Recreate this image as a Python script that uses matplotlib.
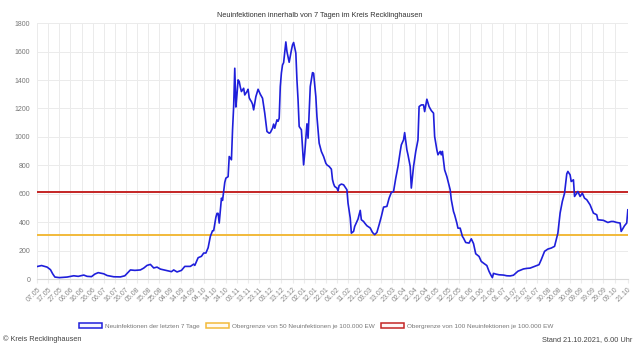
import pandas as pd
import matplotlib.pyplot as plt
from matplotlib.patches import Patch

plt.rcParams['font.family'] = ['Liberation Sans', 'DejaVu Sans']

start = pd.Timestamp('2020-05-07')
days = [0, 4, 9, 12, 14, 16, 20, 27, 33, 37, 42, 45, 49, 52, 55, 60, 63, 69, 75, 79,
        84, 88, 93, 96, 99, 102, 105, 108, 111, 117, 121, 123, 126, 130, 133, 138, 141, 142,
        145, 148, 150, 152, 154, 156, 158, 159, 161, 162, 163, 164, 166, 167, 169, 170, 172,
        173, 175, 176, 177, 178, 179, 180, 181, 182, 183, 184, 186, 187, 189, 190, 191, 192,
        193, 194, 195, 197, 199, 201, 203, 205, 207, 209, 210, 212, 213, 214, 216, 217, 218,
        219, 220, 221, 222, 224, 225, 227, 229, 230, 231, 233, 234, 235, 236, 238, 240, 241,
        243, 244, 246, 248, 249, 251, 252, 254, 256, 258, 260, 261, 263, 265, 266, 267, 268,
        270, 271, 272, 274, 276, 277, 279, 280, 282, 283, 285, 286, 288, 289, 291, 292, 294,
        295, 297, 300, 302, 304, 306, 308, 310, 312, 315, 317, 319, 321, 323, 325, 327, 328,
        330, 331, 333, 334, 336, 337, 339, 341, 343, 344, 346, 348, 349, 351, 353, 355, 357,
        358, 360, 361, 363, 364, 365, 367, 369, 372, 373, 375, 376, 378, 379, 381, 383, 384,
        386, 389, 391, 393, 395, 398, 400, 402, 405, 407, 409, 410, 411, 413, 416, 420, 423,
        426, 429, 433, 438, 441, 444, 448, 452, 454, 457, 460, 463, 466, 469, 471, 473, 475,
        477, 478, 480, 481, 483, 484, 486, 487, 489, 491, 493, 495, 498, 501, 504, 505, 510,
        514, 517, 519, 522, 525, 526, 529, 531, 532]
cases = [88, 95, 84, 66, 37, 14, 10, 14, 23, 19, 28, 19, 17, 35, 45, 37, 25, 16, 15, 23,
         64, 61, 64, 77, 96, 103, 78, 84, 70, 59, 52, 64, 50, 61, 89, 89, 105, 96,
         150, 160, 183, 183, 220, 300, 340, 340, 435, 462, 462, 394, 569, 553, 680, 710, 720,
         862, 839, 1050, 1213, 1483, 1210, 1300, 1401, 1390, 1350, 1319, 1342, 1295, 1319, 1335, 1275, 1260,
         1248, 1230, 1190, 1283, 1335, 1300, 1272, 1167, 1038, 1026, 1030, 1061, 1090, 1061, 1120, 1110, 1131,
         1354, 1450, 1506, 1522, 1668, 1600, 1525, 1610, 1647, 1664, 1590, 1400, 1260, 1073, 1050, 803, 885,
         1092, 991, 1354, 1452, 1448, 1284, 1143, 956, 897, 862, 815, 803, 792, 773, 700, 670, 651,
         640, 620, 658, 668, 663, 651, 628, 534, 429, 323, 335, 370, 405, 422, 483, 417, 405,
         394, 375, 359, 328, 312, 328, 382, 440, 506, 511, 569, 609, 616, 710, 792, 897, 944,
         979, 1030, 909, 874, 792, 640, 792, 898, 979, 1213, 1225, 1225, 1178, 1265, 1213, 1185, 1167,
         1003, 909, 874, 898, 874, 898, 768, 721, 628, 558, 475, 452, 394, 358, 358, 300, 288,
         257, 253, 283, 250, 178, 159, 124, 112, 95, 54, 23, 10, 40, 35, 30, 28, 23,
         22, 27, 55, 71, 75, 77, 89, 101, 136, 195, 211, 218, 230, 323, 464, 546, 604,
         740, 757, 733, 686, 698, 581, 604, 616, 581, 604, 569, 558, 522, 464, 452, 417, 413,
         398, 405, 405, 398, 394, 335, 375, 394, 487]

limit_50 = 307.5
limit_100 = 615

tick_days = list(range(0, 521, 10)) + [532]

dates = [start + pd.Timedelta(days=d) for d in days]
tick_dates = [start + pd.Timedelta(days=d) for d in tick_days]
tick_labels = [t.strftime('%d.%m') for t in tick_dates]

fig = plt.figure(figsize=(6.4, 3.51), dpi=100)
ax = fig.add_axes([0.058, 0.205, 0.923, 0.729])

blue = '#1f1fdb'
orange = '#f2ba3a'
red = '#c42525'

ax.axhline(limit_50, color=orange, lw=1.4, zorder=2)
ax.axhline(limit_100, color=red, lw=1.4, zorder=2)
ax.plot(dates, cases, color=blue, lw=1.2, zorder=3)

ax.set_xlim(tick_dates[0], tick_dates[-1])
ax.set_ylim(0, 1800)
ax.set_yticks(range(0, 1801, 200))
ax.set_xticks(tick_dates)
ax.set_xticklabels(tick_labels, rotation=45, ha='right', rotation_mode='anchor')

ax.grid(True, color='#ebebeb', lw=0.7)
ax.set_axisbelow(True)
for s in ['top', 'right', 'left']:
    ax.spines[s].set_visible(False)
ax.spines['bottom'].set_color('#d9d9d9')
ax.tick_params(axis='y', length=0, pad=5, labelsize=5.0, labelcolor='#777777')
ax.tick_params(axis='x', length=3, color='#ebebeb', pad=2, labelsize=5.0, labelcolor='#888888')

fig.text(0.5, 0.955, 'Neuinfektionen innerhalb von 7 Tagen im Kreis Recklinghausen',
         ha='center', va='center', fontsize=5.3, color='#333333')

handles = [Patch(facecolor='#f4f4ff', edgecolor=blue, lw=1.1),
           Patch(facecolor='#fffaf0', edgecolor=orange, lw=1.1),
           Patch(facecolor='#fff5f5', edgecolor=red, lw=1.1)]
labels = ['Neuinfektionen der letzten 7 Tage',
          'Obergrenze von 50 Neuinfektionen je 100.000 EW',
          'Obergrenze von 100 Neuinfektionen je 100.000 EW']
fig.legend(handles, labels, loc='center', bbox_to_anchor=(0.494, 0.072), ncol=3,
           frameon=False, fontsize=4.6, handlelength=3.6, handleheight=1.0,
           handletextpad=0.5, columnspacing=1.0, labelcolor='#777777')

fig.text(0.005, 0.034, '© Kreis Recklinghausen', ha='left', va='center', fontsize=5.3, color='#444444')
fig.text(0.988, 0.034, 'Stand 21.10.2021, 6.00 Uhr', ha='right', va='center', fontsize=5.3, color='#444444')

plt.savefig('out.png', dpi=100)
